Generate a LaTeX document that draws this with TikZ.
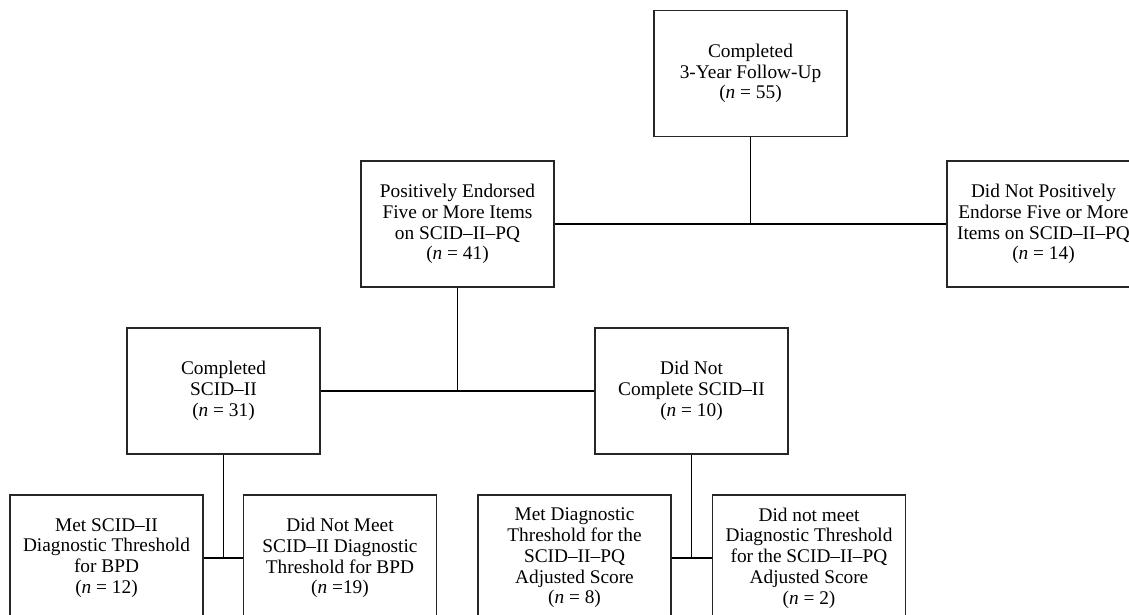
\documentclass[tikz,border=0pt]{standalone}
\usepackage{fontspec}
\setmainfont{Liberation Serif}
\begin{document}
\begin{tikzpicture}[x=0.02cm,y=-0.02cm,
  box/.style={draw=black!85,line width=0.65pt,minimum width=3.86cm,minimum height=2.52cm,
    align=center,inner sep=2pt,font=\fontsize{11}{11.8}\selectfont},
  link/.style={draw=black,line width=0.6pt}]
\useasboundingbox (0,0) rectangle (1129,615);
\clip (0,0) rectangle (1129,615);
\node[box] (top) at (750.5,73.5) {Completed\\3-Year Follow-Up\\(\textit{n} = 55)};
\node[box] (pos) at (457.5,224) {Positively Endorsed\\Five or More Items\\on SCID--II--PQ\\(\textit{n} = 41)};
\node[box] (notpos) at (1043.5,224) {Did Not Positively\\Endorse Five or More\\Items on SCID--II--PQ\\(\textit{n} = 14)};
\node[box] (comp) at (223.5,391) {Completed\\SCID--II\\(\textit{n} = 31)};
\node[box] (notcomp) at (691.5,391) {Did Not\\Complete SCID--II\\(\textit{n} = 10)};
\node[box] (met) at (106.5,558) {Met SCID--II\\Diagnostic Threshold\\for BPD\\(\textit{n} = 12)};
\node[box] (notmet) at (340,558) {Did Not Meet\\SCID--II Diagnostic\\Threshold for BPD\\(\textit{n} =19)};
\node[box] (metdiag) at (574.5,558) {Met Diagnostic\\Threshold for the\\SCID--II--PQ\\Adjusted Score\\(\textit{n} = 8)};
\node[box] (notmetdiag) at (809,558) {Did not meet\\Diagnostic Threshold\\for the SCID--II--PQ\\Adjusted Score\\(\textit{n} = 2)};
\draw[link] (pos) -- (notpos);
\draw[link] (top.south) -- (top.south |- pos.east);
\draw[link] (comp) -- (notcomp);
\draw[link] (pos.south) -- (pos.south |- comp.east);
\draw[link] (met) -- (notmet);
\draw[link] (comp.south) -- (comp.south |- met.east);
\draw[link] (metdiag) -- (notmetdiag);
\draw[link] (notcomp.south) -- (notcomp.south |- metdiag.east);
\end{tikzpicture}
\end{document}
